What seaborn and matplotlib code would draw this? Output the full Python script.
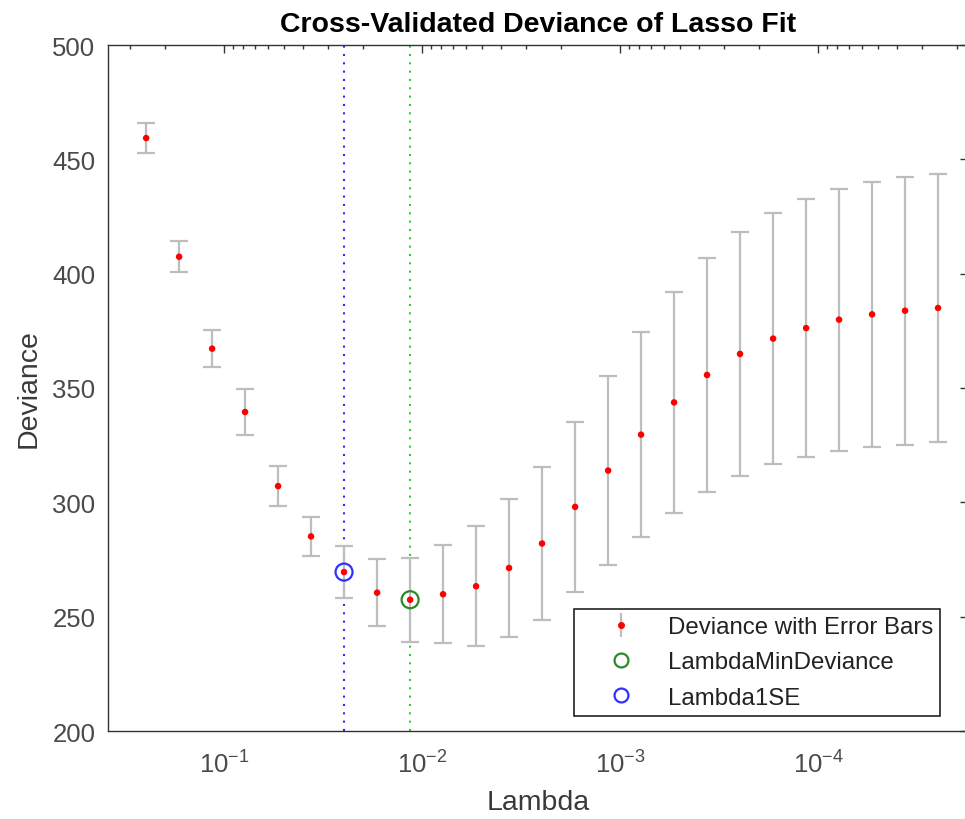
import matplotlib
matplotlib.use("Agg")
import matplotlib.pyplot as plt
import pandas as pd
import seaborn as sns

# cross-validated lasso fit
lambdas = [0.2477, 0.1688, 0.1150, 0.0784, 0.0534, 0.0364, 0.0248, 0.01688,
           0.01150, 0.00784, 0.00534, 0.00364, 0.00248, 0.001688, 0.00115,
           0.000784, 0.000534, 0.000364, 0.000248, 0.0001688, 0.000115,
           7.84e-5, 5.34e-5, 3.64e-5, 2.48e-5]
deviance = [459.3, 407.4, 367.2, 339.5, 307.1, 285.1, 269.5, 260.5, 257.4,
            259.8, 263.3, 271.3, 282.0, 298.0, 313.9, 329.6, 343.7, 355.7,
            364.9, 371.6, 376.2, 379.9, 382.2, 383.8, 385.0]
std_err = [6.5, 6.7, 8.0, 9.9, 8.7, 8.7, 11.4, 14.7, 18.4, 21.5, 26.3, 30.2,
           33.5, 37.0, 41.2, 44.9, 48.2, 51.2, 53.3, 55.0, 56.5, 57.3, 57.8,
           58.6, 58.7]
idx_1se = 6
idx_min = 8
xlim = (0.386, 1.75e-5)
ylim = (200, 500)
yticks = [200, 250, 300, 350, 400, 450, 500]
labels = ["Deviance with Error Bars", "LambdaMinDeviance", "Lambda1SE"]

sns.set_theme(style="white")
plt.rcParams["font.family"] = ["Liberation Sans", "DejaVu Sans"]
plt.rcParams["axes.unicode_minus"] = False

df = pd.DataFrame({"Lambda": lambdas, "Deviance": deviance, "SE": std_err})
GRAY = "#bdbdbd"
TXT = "#4a4a4a"
GREEN_C, BLUE_C = "#2a8a2a", "#3030ff"

fig = plt.figure(figsize=(9.65, 8.2), dpi=100)
ax = fig.add_axes([108 / 965, 1 - 732 / 820, 860 / 965, 686 / 820])

ax.axvline(lambdas[idx_1se], color="#2a2aff", lw=1.5, ls=(0, (1, 3)), zorder=1)
ax.axvline(lambdas[idx_min], color="#33cc33", lw=1.5, ls=(0, (1, 3)), zorder=1)

eb = ax.errorbar(df["Lambda"], df["Deviance"], yerr=df["SE"], fmt="none",
                 ecolor=GRAY, elinewidth=1.6, capsize=6.5, capthick=1.6, zorder=2)
sns.scatterplot(data=df, x="Lambda", y="Deviance", color="red", s=22,
                edgecolor="none", ax=ax, zorder=4, legend=False)

sns.scatterplot(data=df.iloc[[idx_min]], x="Lambda", y="Deviance", marker="o",
                s=150, facecolor="none", edgecolor=GREEN_C, linewidth=1.6,
                ax=ax, zorder=3, legend=False)
sns.scatterplot(data=df.iloc[[idx_1se]], x="Lambda", y="Deviance", marker="o",
                s=150, facecolor="none", edgecolor=BLUE_C, linewidth=1.6,
                ax=ax, zorder=3, legend=False)

ax.set_xscale("log")
ax.set_xlim(*xlim)
ax.set_ylim(*ylim)
ax.set_yticks(yticks)

for side in ["left", "bottom", "top", "right"]:
    ax.spines[side].set_color("#333333")
    ax.spines[side].set_linewidth(1.0)
ax.tick_params(which="both", direction="in", top=True, right=True,
               colors="#333333", labelcolor=TXT, labelsize=18.5)
ax.tick_params(which="major", length=5.5, width=1.0, pad=9)
ax.tick_params(axis="x", which="major", pad=14)
ax.tick_params(which="minor", length=3, width=1.0)
ax.tick_params(axis="y", which="minor", left=False, right=False)

ax.set_xlabel("Lambda", fontsize=20.5, color="#3a3a3a", labelpad=8)
ax.set_ylabel("Deviance", fontsize=20.5, color="#3a3a3a", labelpad=8)
ax.set_title("Cross-Validated Deviance of Lasso Fit", fontsize=20.5,
             fontweight="bold", color="black", pad=10)

# legend handles: an errorbar sample and the two open circles
h_err = ax.errorbar([], [], yerr=[], fmt="o", color="red", markersize=4,
                    ecolor=GRAY, elinewidth=1.6, capsize=6, capthick=1.6)
h_min = plt.Line2D([], [], ls="none", marker="o", markersize=10, mfc="none",
                   mec=GREEN_C, mew=1.6)
h_1se = plt.Line2D([], [], ls="none", marker="o", markersize=10, mfc="none",
                   mec=BLUE_C, mew=1.6)
leg = ax.legend([h_err, h_min, h_1se], labels,
                loc="lower right", bbox_to_anchor=(0.968, 0.022),
                borderaxespad=0, fontsize=17.3, frameon=True, fancybox=False,
                edgecolor="#222222", framealpha=1, handlelength=3.3,
                handletextpad=0.3, labelspacing=0.55, borderpad=0.3)
leg.get_frame().set_linewidth(1.2)
for t in leg.get_texts():
    t.set_color("#222222")

fig.savefig("out.png", dpi=100)
